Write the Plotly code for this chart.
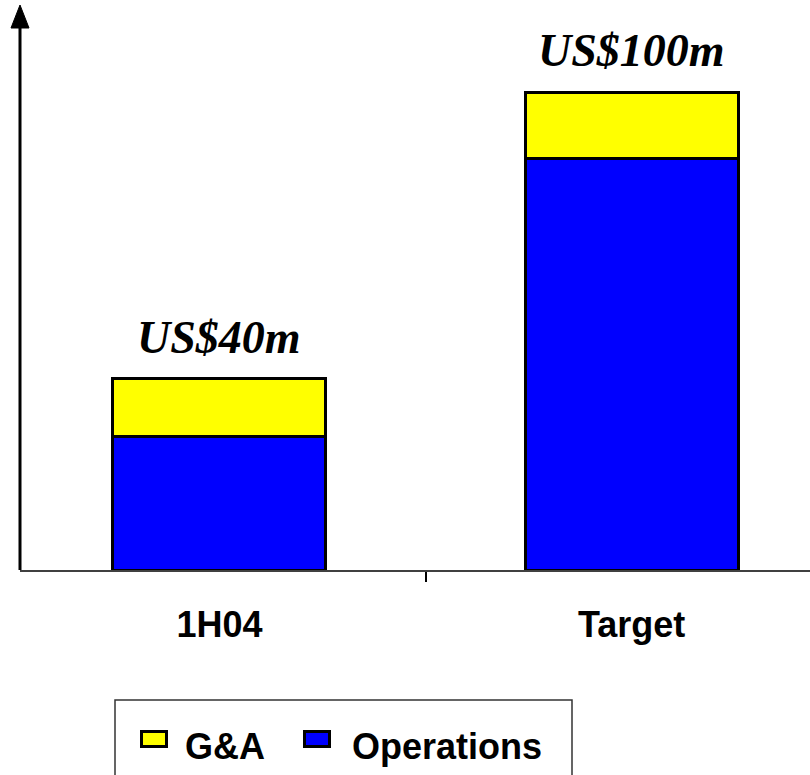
import plotly.graph_objects as go

# Cost breakdown, US$ millions
categories = ["1H04", "Target"]
operations = [28, 86]
g_and_a = [12, 14]
totals = [o + g for o, g in zip(operations, g_and_a)]
total_labels = ["US$40m", "US$100m"]
legend_names = ["G&A", "Operations"]
legend_colors = ["#FFFF00", "#0000FF"]

SANS = "Liberation Sans, Arial, sans-serif"
SERIF = "Liberation Serif, Times New Roman, serif"

W, H = 810, 775
M_L, M_R, M_T, M_B = 20, 0, 5, 205
PW, PH = W - M_L - M_R, H - M_T - M_B

X_RANGE = [-0.484, 1.433]
Y_TOP = 118.2


def px(x):
    """Page x pixel -> paper coordinate."""
    return (x - M_L) / PW


def py(y):
    """Page y pixel -> paper coordinate."""
    return (H - M_B - y) / PH


fig = go.Figure()

fig.add_trace(go.Bar(
    name="Operations", x=categories, y=operations, width=0.517,
    marker=dict(color="#0000FF", line=dict(color="black", width=3)),
    showlegend=False,
))
fig.add_trace(go.Bar(
    name="G&A", x=categories, y=g_and_a, width=0.517,
    marker=dict(color="#FFFF00", line=dict(color="black", width=3)),
    showlegend=False,
))

# Total labels above each stack
for cat, tot, lab in zip(categories, totals, total_labels):
    fig.add_annotation(
        x=cat, y=tot, text=f"<b><i>{lab}</i></b>", showarrow=False,
        yanchor="bottom", yshift=14,
        font=dict(family=SERIF, size=46, color="black"),
    )

# Vertical axis with arrowhead at the top
fig.add_shape(type="line", xref="paper", yref="paper",
              x0=0, x1=0, y0=0, y1=0.97,
              line=dict(color="black", width=3), layer="above")
fig.add_shape(type="path", xref="paper", yref="paper",
              xsizemode="pixel", ysizemode="pixel",
              xanchor=0, yanchor=1,
              path="M-9,-23 L9,-23 L0,0 Z",
              fillcolor="black", line=dict(color="black", width=1),
              layer="above")

# Legend frame (runs off the bottom of the page)
fig.add_shape(type="rect", xref="paper", yref="paper",
              x0=px(115), x1=px(572), y0=py(700), y1=py(820),
              line=dict(color="#333333", width=1.5), fillcolor="white")

swatch_x = [141.5, 304.5]
text_x = [183, 350]
for name, color, sx, tx in zip(legend_names, legend_colors, swatch_x, text_x):
    fig.add_shape(type="rect", xref="paper", yref="paper",
                  x0=px(sx), x1=px(sx + 25), y0=py(731.5), y1=py(746.5),
                  line=dict(color="black", width=3), fillcolor=color)
    fig.add_annotation(
        xref="paper", yref="paper", x=px(tx), y=py(746),
        text=f"<b>{name}</b>", showarrow=False,
        xanchor="left", yanchor="middle",
        font=dict(family=SANS, size=36, color="black"),
    )

fig.update_layout(
    width=W, height=H,
    margin=dict(l=M_L, r=M_R, t=M_T, b=M_B, autoexpand=False),
    paper_bgcolor="white", plot_bgcolor="white",
    barmode="stack",
    showlegend=False,
    xaxis=dict(
        range=X_RANGE, showgrid=False, zeroline=False,
        showline=True, linecolor="#404040", linewidth=2,
        ticks="outside", tickson="boundaries", ticklen=10,
        tickwidth=2, tickcolor="black",
        tickfont=dict(family=SANS, size=36, color="black", weight="bold"),
        ticklabelstandoff=22,
    ),
    yaxis=dict(
        range=[0, Y_TOP], showgrid=False, zeroline=False,
        showline=False, showticklabels=False, ticks="",
    ),
)

fig.write_html("out.html")
